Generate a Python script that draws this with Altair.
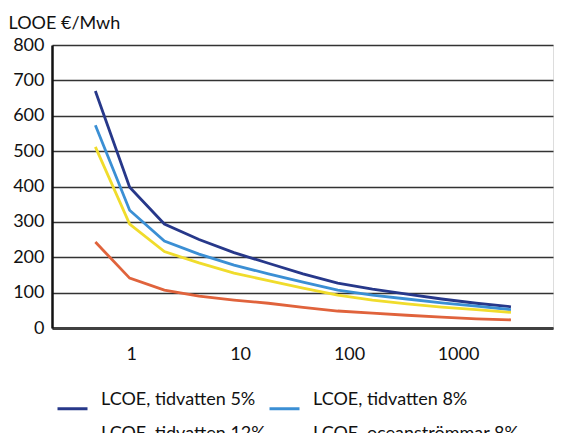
import altair as alt
import pandas as pd

x_vals = [0.47, 0.97, 2.02, 4.2, 8.8, 18.2, 37.8, 78.7, 164, 340, 708, 1472, 3060]
s_names = ["LCOE, tidvatten 5%", "LCOE, tidvatten 8%", "LCOE, tidvatten 12%", "LCOE, oceanströmmar 8%"]
s_colors = ["#27388a", "#3b8fd4", "#f0dc2c", "#e0633c"]
navy = [670, 398, 294, 250, 213, 183, 153, 127, 110, 96, 82, 70, 60]
blue = [573, 333, 246, 209, 178, 153, 130, 107, 93, 82, 71, 62, 52]
yellow = [512, 294, 216, 184, 155, 134, 113, 93, 79, 68, 59, 52, 44]
orange = [243, 141, 107, 90, 79, 70, 58, 48, 42, 36, 31, 26, 23]
y_ticks = [0, 100, 200, 300, 400, 500, 600, 700, 800]
x_ticks = [1, 10, 100, 1000]

rows = []
for name, vals in zip(s_names, [navy, blue, yellow, orange]):
    for i, (xv, yv) in enumerate(zip(x_vals, vals)):
        rows.append({"x": xv, "y": yv, "serie": name, "i": i})
df = pd.DataFrame(rows)

# legend fills column by column: order so rows read 5%, 8% / 12%, ocean
legend_order = [s_names[0], s_names[2], s_names[1], s_names[3]]
legend_colors = [s_colors[0], s_colors[2], s_colors[1], s_colors[3]]

FONT = "Lato"

chart = alt.Chart(df).mark_line(strokeWidth=2.8).encode(
    x=alt.X("x:Q",
            scale=alt.Scale(type="log", domain=[0.188, 7440], nice=False),
            axis=alt.Axis(values=x_ticks, format="d", title=None, grid=False,
                          ticks=False, labelPadding=17, labelFontSize=18,
                          labelFont=FONT, labelColor="#111",
                          domainColor="#404040", domainWidth=3)),
    y=alt.Y("y:Q",
            scale=alt.Scale(domain=[0, 800], nice=False),
            axis=alt.Axis(values=y_ticks, title="LOOE €/Mwh", titleAngle=0,
                          titleX=-44, titleY=-17, titleAlign="left",
                          titleBaseline="alphabetic", titleFontSize=18,
                          titleFontWeight="normal", titleFont=FONT, titleColor="#111",
                          ticks=False, labelPadding=8, labelFontSize=18,
                          labelFont=FONT, labelColor="#111",
                          gridColor="#333333", gridWidth=1.4, gridOpacity=1,
                          domainColor="#111", domainWidth=2.5)),
    color=alt.Color("serie:N",
                    scale=alt.Scale(domain=legend_order, range=legend_colors),
                    legend=alt.Legend(title=None, orient="none", legendX=4, legendY=347,
                                      columns=2, columnPadding=-3, rowPadding=9,
                                      gridAlign="each",
                                      symbolType="stroke", symbolSize=900,
                                      symbolStrokeWidth=3, labelOffset=12,
                                      labelFontSize=18, labelFont=FONT,
                                      labelColor="#111", labelBaseline="bottom",
                                      labelLimit=300)),
    order="i:Q",
).properties(
    width=501, height=283,
    autosize=alt.AutoSizeParams(type="none"),
    padding={"left": 44, "top": 37, "right": 16, "bottom": 105},
).configure_view(stroke=None).configure(background="white")

chart.save("out.html", embed_options={"renderer": "svg", "actions": False})
